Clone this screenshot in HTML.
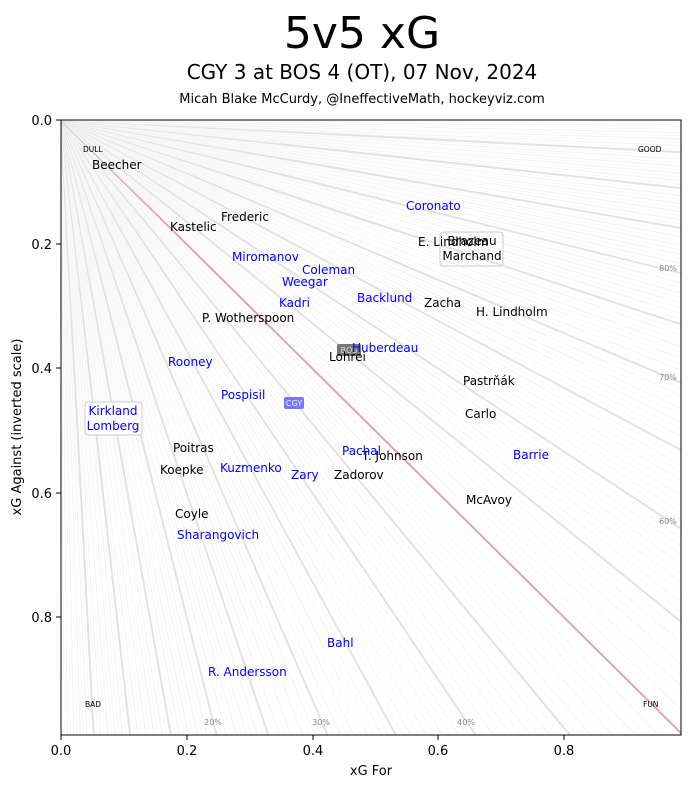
<!DOCTYPE html>
<html><head><meta charset="utf-8"><style>
html,body{margin:0;background:#fff;overflow:hidden;width:691px;height:788px;}
svg{display:block;}
svg text{font-family:"DejaVu Sans","Liberation Sans",sans-serif;}
</style></head><body>
<svg id="s" width="691" height="788" xmlns="http://www.w3.org/2000/svg">
<rect width="691" height="788" fill="#fff"/>
<text x="362" y="48" font-size="44" text-anchor="middle">5v5 xG</text>
<text x="362" y="79" font-size="20" text-anchor="middle">CGY 3 at BOS 4 (OT), 07 Nov, 2024</text>
<text x="362" y="103" font-size="13" text-anchor="middle">Micah Blake McCurdy, @IneffectiveMath, hockeyviz.com</text>
<defs><clipPath id="c"><rect x="61" y="120" width="620" height="615"/></clipPath></defs>
<g id="rays" clip-path="url(#c)"></g>
<g font-size="12" fill="#000">
<text x="92" y="169">Beecher</text>
<text x="221" y="221">Frederic</text>
<text x="170" y="231">Kastelic</text>
<text x="202" y="322">P. Wotherspoon</text>
<text x="418" y="246">E. Lindholm</text>
<text x="424" y="307">Zacha</text>
<text x="476" y="316">H. Lindholm</text>
<text x="463" y="385">Pastrňák</text>
<text x="465" y="418">Carlo</text>
<text x="173" y="452">Poitras</text>
<text x="362" y="460">T. Johnson</text>
<text x="160" y="474">Koepke</text>
<text x="334" y="479">Zadorov</text>
<text x="466" y="504">McAvoy</text>
<text x="175" y="518">Coyle</text>
</g>
<rect x="337" y="344" width="24" height="12" rx="2" fill="#777"/>
<text x="349" y="353" font-size="8" fill="#ddd" text-anchor="middle">BOS</text>
<text x="329" y="361" font-size="12">Lohrei</text>
<rect x="440" y="232" width="63" height="34" rx="3" fill="none" stroke="#ccc"/>
<text x="472" y="245" font-size="12" text-anchor="middle">Brazeau</text>
<text x="472" y="260" font-size="12" text-anchor="middle">Marchand</text>
<g font-size="12" fill="#0000ff">
<text x="406" y="210">Coronato</text>
<text x="232" y="261">Miromanov</text>
<text x="302" y="274">Coleman</text>
<text x="282" y="286">Weegar</text>
<text x="279" y="307">Kadri</text>
<text x="357" y="302">Backlund</text>
<text x="352" y="352">Huberdeau</text>
<text x="168" y="366">Rooney</text>
<text x="221" y="399">Pospisil</text>
<text x="342" y="455">Pachal</text>
<text x="513" y="459">Barrie</text>
<text x="220" y="472">Kuzmenko</text>
<text x="291" y="479">Zary</text>
<text x="177" y="539">Sharangovich</text>
<text x="327" y="647">Bahl</text>
<text x="208" y="676">R. Andersson</text>
</g>
<rect x="284" y="397" width="20" height="12" rx="2" fill="#7777ff"/>
<text x="294" y="406" font-size="8" fill="#eee" text-anchor="middle">CGY</text>
<rect x="85" y="402" width="57" height="33" rx="3" fill="#fff" stroke="#ccd"/>
<text x="113" y="415" font-size="12" fill="#0000ff" text-anchor="middle">Kirkland</text>
<text x="113" y="430" font-size="12" fill="#0000ff" text-anchor="middle">Lomberg</text>
<g font-size="7.5">
<text x="83" y="152">DULL</text><text x="638" y="152">GOOD</text>
<text x="85" y="707">BAD</text><text x="643" y="707">FUN</text>
</g>
<g font-size="8" fill="#888" text-anchor="middle">
<text x="213" y="725">20%</text><text x="321" y="725">30%</text><text x="466" y="725">40%</text>
<text x="668" y="271">80%</text><text x="668" y="380">70%</text><text x="668" y="524">60%</text>
</g>
<rect x="61" y="120" width="620" height="615" fill="none" stroke="#000" stroke-width="1"/>
<g stroke="#000">
<line x1="61" y1="735" x2="61" y2="740"/><line x1="187" y1="735" x2="187" y2="740"/><line x1="313" y1="735" x2="313" y2="740"/><line x1="438" y1="735" x2="438" y2="740"/><line x1="564" y1="735" x2="564" y2="740"/>
<line x1="56" y1="120" x2="61" y2="120"/><line x1="56" y1="244" x2="61" y2="244"/><line x1="56" y1="368" x2="61" y2="368"/><line x1="56" y1="493" x2="61" y2="493"/><line x1="56" y1="617" x2="61" y2="617"/>
</g>
<g font-size="13" text-anchor="middle">
<text x="61" y="755">0.0</text><text x="187" y="755">0.2</text><text x="313" y="755">0.4</text><text x="438" y="755">0.6</text><text x="564" y="755">0.8</text>
<text x="371" y="775">xG For</text>
</g>
<g font-size="13" text-anchor="end">
<text x="52" y="125">0.0</text><text x="52" y="249">0.2</text><text x="52" y="373">0.4</text><text x="52" y="498">0.6</text><text x="52" y="622">0.8</text>
</g>
<text transform="translate(21,427) rotate(-90)" font-size="13" text-anchor="middle">xG Against (inverted scale)</text>
</svg>
<script>
var g=document.getElementById('rays'),h='';
for(var i=1;i<200;i++){var f=i/200;var dx=f*628.5,dy=(1-f)*621.5;var k=Math.min(620/dx,615/dy);
var x2=(61+dx*k).toFixed(2),y2=(120+dy*k).toFixed(2);var st,w;
if(i==100){st='#dca8a8';w=2;}else if(i%10==0){st='#e2e2e2';w=2;}else if(i%2==0){st='#f3f3f3';w=1;}else{st='#f9f9f9';w=1;}
h+='<line x1="61" y1="120" x2="'+x2+'" y2="'+y2+'" stroke="'+st+'" stroke-width="'+w+'"/>';}
g.innerHTML=h;
</script>
</body></html>
